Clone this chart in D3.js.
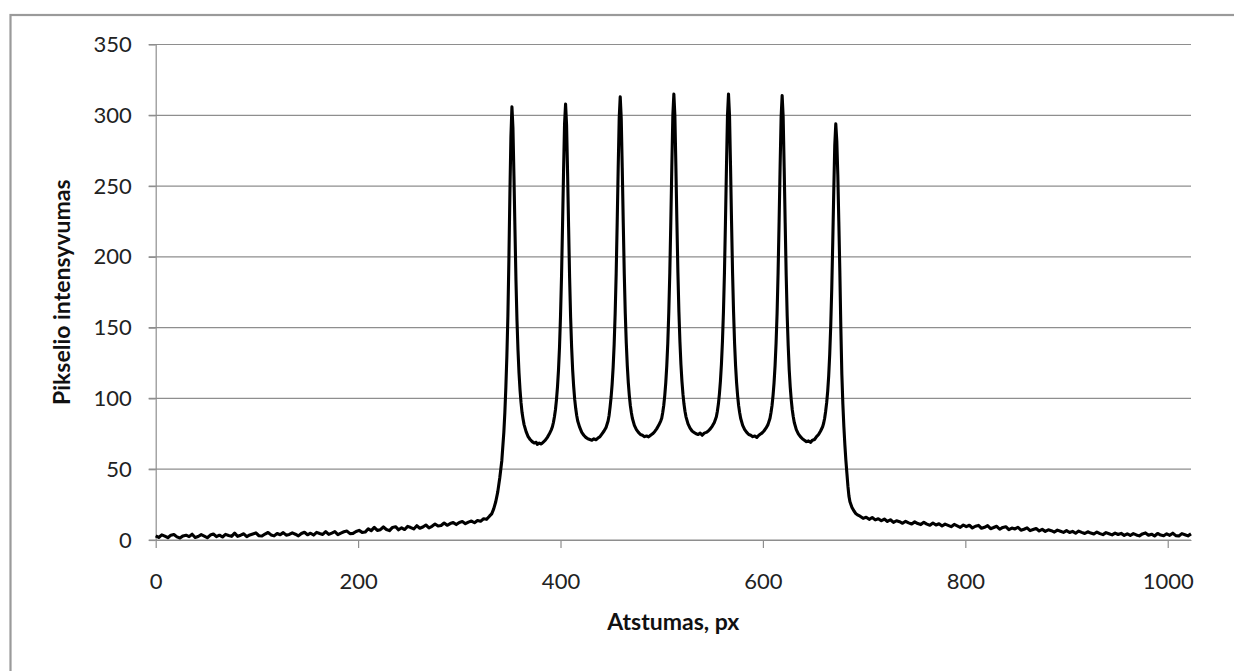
<!DOCTYPE html>
<html>
<head>
<meta charset="utf-8">
<script src="https://cdn.jsdelivr.net/npm/d3@7"></script>
<style>
  body { margin: 0; background: #fff; }
  svg { display: block; }
  text { font-family: Lato, "Open Sans", sans-serif; }
</style>
</head>
<body>
<svg id="svg"></svg>
<script>
// line profile: pixel intensity vs distance (px)

const tailLeft = [
  [0,2.9],[3,1.8],[6,3.6],[9,2.7],[12,1.6],[15,3.4],[18,3.9],[21,2.2],[24,1.4],[27,2.9],
  [30,3.4],[33,2.4],[36,4.1],[39,1.8],[42,2.5],[45,3.8],[48,2.8],[51,1.6],[54,3.5],[57,4.2],
  [60,2.4],[63,3.4],[66,2.1],[69,4.0],[72,3.2],[75,2.6],[78,4.8],[81,2.6],[84,3.4],[87,4.4],
  [90,2.4],[93,3.6],[96,4.3],[99,5.0],[102,3.0],[105,2.8],[108,4.2],[111,5.3],[114,3.6],[117,2.9],
  [120,4.6],[123,3.7],[126,5.2],[129,3.4],[132,3.9],[135,5.0],[138,4.1],[141,2.9],[144,4.6],[147,5.5],
  [150,3.7],[153,4.8],[156,3.5],[159,5.4],[162,4.6],[165,3.9],[168,5.9],[171,4.0],[174,4.9],[177,5.9],
  [180,3.8],[183,4.9],[186,5.8],[189,6.3],[192,4.5],[195,4.7],[198,6.0],[201,6.8],[204,5.4],[207,5.6],
  [210,7.9],[213,6.6],[216,8.9],[219,6.8],[222,7.3],[225,9.2],[228,7.4],[231,6.6],[234,8.9],[237,9.4],
  [240,7.2],[243,8.6],[246,7.4],[249,9.6],[252,8.8],[255,7.8],[258,10.1],[261,8.3],[264,9.2],[267,10.6],
  [270,8.6],[273,9.7],[276,11.3],[279,9.9],[282,10.2],[285,12.0],[288,10.4],[291,11.6],[294,12.3],[297,10.9],
  [300,12.4],[303,13.0],[306,11.5],[309,12.6],[312,13.4],[315,12.2],[318,13.8],[321,13.2],[324,15.0],[327,14.6]
];

const plateau = [
  [330,17],[332,18.5],[334,22],[336,27],[338,34],[340,44],[342,56],[344,76],[345,90],[346,108],
  [347,130],[348,158],[349,198],[350,245],[351,285],[352,306],
  [353,291],[354,257],[355,219],[356,183],[357,155],[358,134],[359,118],[360,106],[361,97],[362,90],
  [363,85.5],[364,81.5],[366,76.5],[368,73],[370,71],[372,69.5],[374,68.5],[376,69],[377,67.5],[379,68.5],
  [381,67.8],[383,69.2],[385,70.5],[387,72.5],[389,75],[391,78],[392,80],[393,83],[394,87],[395,92],
  [396,99],[397,108],[398,120],[399,136],[400,158],[401,186],[402,222],[403,260],[404,294],[405,308],
  [406,293],[407,259],[408,221],[409,185],[410,157],[411,136],[412,120],[413,108.5],[414,99.5],[415,93],
  [416,88],[417,84],[419,79.5],[421,76],[423,74],[425,72.5],[427,71.5],[429,71],[431,70.5],[433,71.5],
  [435,70.8],[437,72],[439,73],[441,75],[443,77],[445,79.5],[447,84],[448,88],[449,94],[450,101],
  [451,110],[452,122],[453,138],[454,160],[455,188],[456,224],[457,263],[458,298],[459,313],
  [460,298],[461,263],[462,224],[463,188],[464,160],[465,139],[466,123],[467,111],[468,102],[469,95],
  [470,90],[471,86],[473,81],[475,78],[477,76],[479,74.5],[481,74],[483,73],[485,73.5],[487,72.8],
  [489,74],[491,75],[493,76.5],[495,78.5],[497,81],[499,84],[500,86],[501,90],[502,95],[503,102],
  [504,111],[505,123],[506,139],[507,161],[508,189],[509,225],[510,264],[511,300],[512,315],
  [513,300],[514,264],[515,225],[516,189],[517,161],[518,140],[519,124],[520,112],[521,103],[522,96],
  [523,91],[524,87],[526,82],[528,79],[530,77],[532,76],[534,75],[536,74.5],[538,75.5],[540,74],
  [542,75.5],[544,76],[546,77],[548,78.5],[550,80.5],[552,83],[554,87],[555,91],[556,96],[557,103],
  [558,112],[559,124],[560,140],[561,161],[562,189],[563,225],[564,264],[565,300],[566,315],
  [567,300],[568,264],[569,225],[570,189],[571,161],[572,139],[573,123],[574,111],[575,102],[576,95],
  [577,90],[578,86],[580,81],[582,78],[584,76],[586,74.5],[588,74],[590,73],[592,73.5],[594,72.5],
  [596,74],[598,75],[599,75.5],[601,77],[603,79],[605,81.5],[607,86],[608,90],[609,95],[610,102],
  [611,111],[612,123],[613,139],[614,160],[615,189],[616,225],[617,264],[618,299],[619,314],
  [620,299],[621,263],[622,224],[623,187],[624,158],[625,137],[626,120],[627,108],[628,99],[629,92],
  [630,87],[631,83],[633,78],[635,75],[637,73],[639,71.5],[641,70.5],[643,69.5],[645,70],[647,69],
  [649,70.5],[651,71],[653,73],[655,74.5],[657,77],[659,80],[660,82.5],[661,86],[662,91],[663,97],
  [664,105],[665,116],[666,131],[667,151],[668,177],[669,210],[670,246],[671,279],[672,294],
  [673,282],[674,258],[675,225],[676,190],[677,150],[678,117],[679,96],[680,80],[681,67],[682,56],
  [683,47],[684,38],[685,31],[686,27],[688,23],[690,20.5],[692,18.5],[694,17.5]
];

const tailRight = [
  [696,16.8],[699,15.3],[702,16.1],[705,14.6],[708,15.9],[711,14.2],[714,15.0],[717,13.6],[720,14.8],[723,13.1],
  [726,14.3],[729,12.4],[732,13.6],[735,12.9],[738,11.8],[741,13.2],[744,12.1],[747,11.3],[750,12.8],[753,11.6],
  [756,10.9],[759,12.5],[762,11.2],[765,10.4],[768,12.0],[771,10.6],[774,11.5],[777,9.9],[780,11.2],[783,10.3],
  [786,9.4],[789,11.0],[792,10.0],[795,8.9],[798,10.6],[801,9.4],[804,10.4],[807,8.5],[810,9.7],[813,10.3],
  [816,8.3],[819,9.0],[822,10.1],[825,8.0],[828,8.8],[831,9.7],[834,7.6],[837,8.9],[840,9.4],[843,7.3],
  [846,8.4],[849,7.8],[852,9.0],[855,6.9],[858,7.6],[861,8.6],[864,6.6],[867,7.4],[870,8.1],[873,6.4],
  [876,7.5],[879,6.1],[882,7.2],[885,6.6],[888,5.6],[891,7.0],[894,6.2],[897,5.4],[900,6.6],[903,5.3],
  [906,6.1],[909,4.8],[912,6.3],[915,5.4],[918,4.6],[921,5.8],[924,4.9],[927,4.2],[930,5.6],[933,4.5],
  [936,3.8],[939,5.2],[942,4.4],[945,3.6],[948,4.9],[951,3.9],[954,4.7],[957,3.3],[960,4.4],[963,3.2],
  [966,4.5],[969,3.6],[972,2.9],[975,4.3],[978,5.0],[981,3.4],[984,4.1],[987,2.8],[990,4.6],[993,3.5],
  [996,3.0],[999,4.4],[1002,3.3],[1005,4.8],[1008,3.1],[1011,2.8],[1014,4.5],[1017,3.7],[1020,2.9],[1023,4.3]
];

const xTicks = [0, 200, 400, 600, 800, 1000];
const yTicks = [0, 50, 100, 150, 200, 250, 300, 350];
const xTitle = "Atstumas, px";
const yTitle = "Pikselio intensyvumas";

const width = 1234;
const height = 671;
const gridColor = "#8e8e8e";

const svg = d3.select("#svg").attr("width", width).attr("height", height);

// outer chart frame (runs off the right and bottom edges)
svg.append("rect")
    .attr("x", 10.5)
    .attr("y", 15)
    .attr("width", 1400)
    .attr("height", 900)
    .attr("fill", "none")
    .attr("stroke", "#9a9a9a")
    .attr("stroke-width", 2.2);

const x = d3.scaleLinear().domain([0, 1023]).range([155.7, 1191]);
const y = d3.scaleLinear().domain([0, 350]).range([540, 44.5]);

// horizontal gridlines
svg.append("g")
    .selectAll("line")
    .data(yTicks)
    .join("line")
    .attr("x1", x(0) - 7)
    .attr("x2", x(1023))
    .attr("y1", (d) => y(d))
    .attr("y2", (d) => y(d))
    .attr("stroke", gridColor)
    .attr("stroke-width", 1.2);

// axes
const yAxis = svg.append("g")
    .attr("transform", `translate(${x(0)},0)`)
    .call(d3.axisLeft(y).tickValues(yTicks).tickSize(7).tickSizeOuter(0).tickPadding(17));

const xAxis = svg.append("g")
    .attr("transform", `translate(0,${y(0)})`)
    .call(d3.axisBottom(x).tickValues(xTicks).tickFormat(d3.format("d"))
      .tickSize(8).tickSizeOuter(0).tickPadding(25));

[yAxis, xAxis].forEach((g) => {
  g.select(".domain").attr("stroke", gridColor).attr("stroke-width", 1.2);
  g.selectAll(".tick line").attr("stroke", gridColor).attr("stroke-width", 1.2);
  g.selectAll(".tick text")
      .attr("fill", "#222")
      .style("font-size", "22px")
      .style("font-family", "Lato, 'Open Sans', sans-serif");
});

// the profile itself
const line = d3.line()
    .x((d) => x(d[0]))
    .y((d) => y(d[1]));

svg.append("path")
    .datum(tailLeft.concat(plateau, tailRight))
    .attr("d", line)
    .attr("fill", "none")
    .attr("stroke", "#000")
    .attr("stroke-width", 3.1)
    .attr("stroke-linejoin", "round");

// axis titles
svg.append("text")
    .attr("x", (x(0) + x(1023)) / 2)
    .attr("y", 630)
    .attr("text-anchor", "middle")
    .attr("fill", "#111")
    .style("font-size", "23px")
    .style("font-weight", "bold")
    .text(xTitle);

svg.append("text")
    .attr("transform", `translate(70,${(y(0) + y(350)) / 2}) rotate(-90)`)
    .attr("text-anchor", "middle")
    .attr("fill", "#111")
    .style("font-size", "23px")
    .style("font-weight", "bold")
    .text(yTitle);
</script>
</body>
</html>
